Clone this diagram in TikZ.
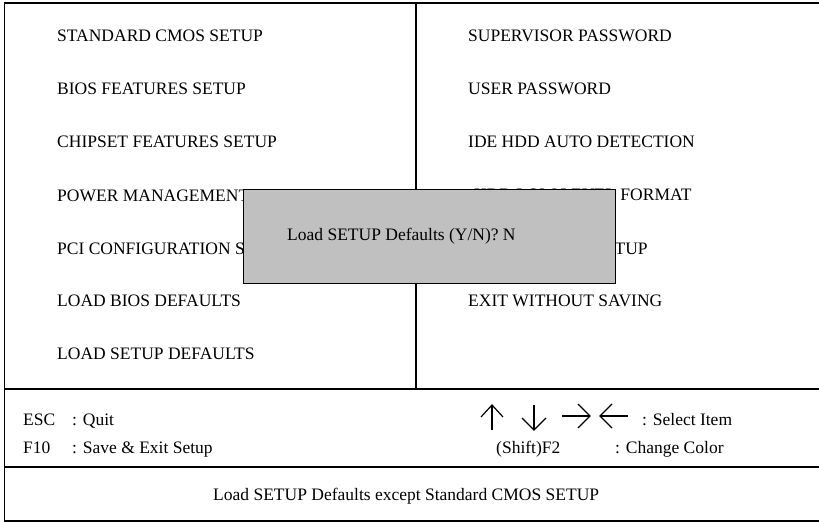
\documentclass[tikz,border=0pt]{standalone}
\usepackage{fontspec}
\setmainfont{Liberation Serif}
\definecolor{dialoggray}{HTML}{C0C0C0}
\begin{document}
\begin{tikzpicture}[x=1bp,y=-1bp,
  item/.style={anchor=base west, inner sep=0pt, font=\fontsize{17.5bp}{20bp}\selectfont},
  keytext/.style={item},
  frame/.style={line width=1.4bp, draw=black},
  arrowglyph/.style={line width=1.2bp, line cap=butt, line join=miter}]
\useasboundingbox (0,0) rectangle (819,522);
\clip (0,0) rectangle (819,522);

% screen frame and dividers
\draw[frame] (830,3) -- (4.5,3) -- (4.5,521) -- (830,521);
\draw[frame] (4.5,389) -- (830,389);
\draw[frame] (4.5,467) -- (830,467);
\draw[frame] (416,3) -- (416,389);

% left menu column
\node[item] (m1) at (57,41.5)  {STANDARD CMOS SETUP};
\node[item] (m2) at (57,94.5)  {BIOS FEATURES SETUP};
\node[item] (m3) at (57,147.5) {CHIPSET FEATURES SETUP};
\node[item] (m4) at (57,201.5) {POWER MANAGEMENT SETUP};
\node[item] (m5) at (57,254.5) {PCI CONFIGURATION SETUP};
\node[item] (m6) at (57,306.5) {LOAD BIOS DEFAULTS};
\node[item] (m7) at (57,359.5) {LOAD SETUP DEFAULTS};

% right menu column
\node[item] (r1) at (468,41.5)  {SUPERVISOR PASSWORD};
\node[item] (r2) at (468,94.5)  {USER PASSWORD};
\node[item] (r3) at (468,147.5) {IDE HDD AUTO DETECTION};
\node[item] (r4) at (474,200.5) {HDD LOW LEVEL FORMAT};
\node[item] (r5) at (484,254.5) {SAVE \& EXIT SETUP};
\node[item] (r6) at (468,306.5) {EXIT WITHOUT SAVING};

% confirmation dialog
\node[frame, fill=dialoggray, anchor=north west, inner sep=0pt,
      minimum width=372bp, minimum height=94bp] (dlg) at (243,189) {};
\node[item] (prompt) at (287,241) {Load SETUP Defaults (Y/N)? N};

% key help
\node[keytext] (esc)   at (23,425) {ESC};
\node[keytext] (quit)  at (72,425) {: Quit};
\node[keytext] (f10)   at (23,453) {F10};
\node[keytext] (save)  at (72,453) {: Save \& Exit Setup};
\node[keytext] (sel)   at (642,425) {: Select Item};
\node[keytext] (shf)   at (496,453) {(Shift)F2};
\node[keytext] (color) at (615,453) {: Change Color};

% cursor arrows
\draw[arrowglyph] (492,430) -- (492,405);
\draw[arrowglyph] (481,417) -- (492,405) -- (503,417);
\draw[arrowglyph] (534,405) -- (534,430);
\draw[arrowglyph] (522,418) -- (534,430) -- (546,418);
\draw[arrowglyph] (562,416) -- (590,416);
\draw[arrowglyph] (578,404) -- (590,416) -- (578,428);
\draw[arrowglyph] (628,416) -- (600,416);
\draw[arrowglyph] (612,404) -- (600,416) -- (612,428);

% status line
\node[item] (status) at (213,500) {Load SETUP Defaults except Standard CMOS SETUP};
\end{tikzpicture}
\end{document}
